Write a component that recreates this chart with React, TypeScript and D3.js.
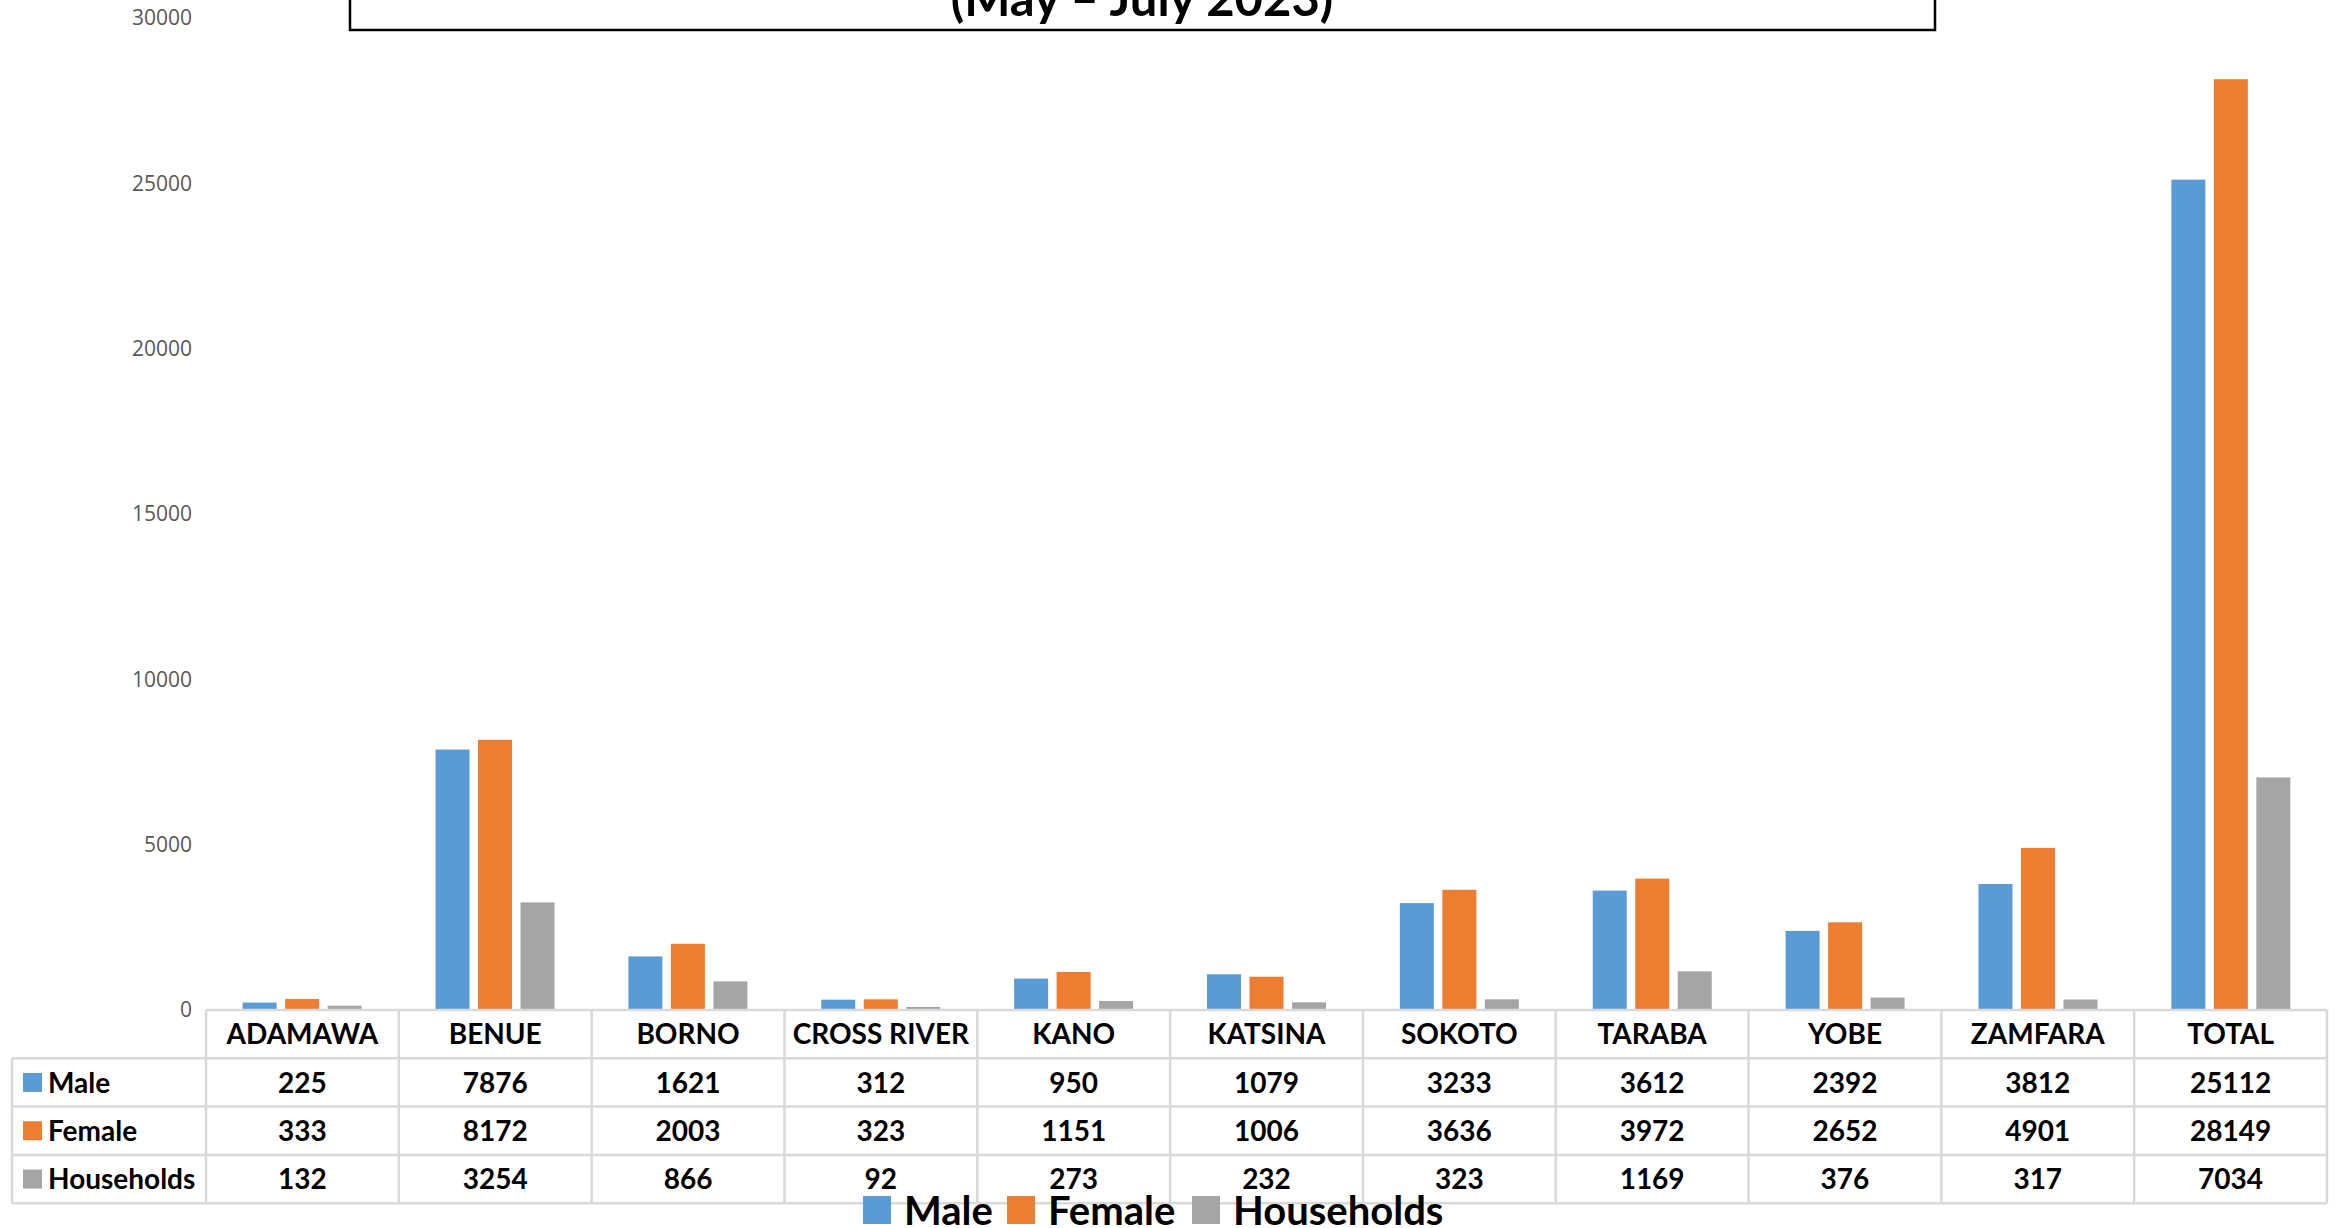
import React from "react";
import * as d3 from "d3";

const categories = ["ADAMAWA", "BENUE", "BORNO", "CROSS RIVER", "KANO", "KATSINA", "SOKOTO", "TARABA", "YOBE", "ZAMFARA", "TOTAL"];
const seriesNames = ["Male", "Female", "Households"];
const male = [225, 7876, 1621, 312, 950, 1079, 3233, 3612, 2392, 3812, 25112];
const female = [333, 8172, 2003, 323, 1151, 1006, 3636, 3972, 2652, 4901, 28149];
const households = [132, 3254, 866, 92, 273, 232, 323, 1169, 376, 317, 7034];
const colors = ["#5B9BD5", "#ED7D31", "#A5A5A5"];
const yTicks = [0, 5000, 10000, 15000, 20000, 25000, 30000];
const subtitle = "(May – July 2023)";

const W = 2346;
const H = 1228;

export default function App() {
  const series = [male, female, households];
  const tableLeft = 12;
  const plotLeft = 206;
  const plotRight = 2327;
  const baseY = 1010;
  const rowH = 48.3;

  const y = d3.scaleLinear().domain([0, 30000]).range([baseY, 18]);
  const x0 = d3.scaleBand<string>().domain(categories).range([plotLeft, plotRight]).paddingInner(0.383).paddingOuter(0.19);
  const cellX = d3.scaleBand<string>().domain(categories).range([plotLeft, plotRight]);
  const x1 = d3.scaleBand<string>().domain(seriesNames).range([0, x0.bandwidth()]).paddingInner(0.2).paddingOuter(0);

  const border = "#d9d9d9";
  const font = "Lato, 'Open Sans', sans-serif";
  const tableBottom = baseY + rowH * 4;

  const legendItems = [
    { name: "Male", x: 863 },
    { name: "Female", x: 1007 },
    { name: "Households", x: 1192 },
  ];

  return (
    <svg width={W} height={H} style={{ position: "absolute", left: 0, top: 0, background: "#fff" }} fontFamily={font}>
      {/* title box */}
      <rect x={350} y={-120} width={1585} height={150} fill="#fff" stroke="#000" strokeWidth={2.5} />
      <text x={1142} y={16} textAnchor="middle" fontSize={49} fontWeight={700} fill="#000">{subtitle}</text>

      {/* y axis labels */}
      {yTicks.map((t) => (
        <text key={t} x={192} y={y(t)} dy="0.35em" textAnchor="end" fontSize={21} fill="#595959" fontFamily="'Open Sans', sans-serif">{t}</text>
      ))}

      {/* bars */}
      {categories.map((c, i) => (
        <g key={c} transform={`translate(${x0(c)},0)`}>
          {seriesNames.map((s, k) => (
            <rect key={s} x={x1(s)} y={y(series[k][i])} width={x1.bandwidth()} height={baseY - y(series[k][i])} fill={colors[k]} />
          ))}
        </g>
      ))}

      {/* data table */}
      <g stroke={border} strokeWidth={2.5} fill="none">
        <line x1={plotLeft} x2={plotRight} y1={baseY} y2={baseY} />
        {[1, 2, 3, 4].map((r) => (
          <line key={r} x1={tableLeft} x2={plotRight} y1={baseY + r * rowH} y2={baseY + r * rowH} />
        ))}
        <line x1={tableLeft} x2={tableLeft} y1={baseY + rowH} y2={tableBottom} />
        {categories.map((c) => (
          <line key={c} x1={cellX(c)} x2={cellX(c)} y1={baseY} y2={tableBottom} />
        ))}
        <line x1={plotRight} x2={plotRight} y1={baseY} y2={tableBottom} />
      </g>
      {categories.map((c) => (
        <text key={c} x={(cellX(c) as number) + cellX.bandwidth() / 2} y={baseY + rowH / 2} dy="0.36em" textAnchor="middle" fontSize={28} fontWeight={700} fill="#000">{c}</text>
      ))}
      {seriesNames.map((s, k) => (
        <g key={s}>
          <rect x={23} y={baseY + (k + 1) * rowH + rowH / 2 - 9.5} width={19} height={19} fill={colors[k]} />
          <text x={48} y={baseY + (k + 1.5) * rowH} dy="0.36em" fontSize={28} fontWeight={700} fill="#000">{s}</text>
          {categories.map((c, i) => (
            <text key={c} x={(cellX(c) as number) + cellX.bandwidth() / 2} y={baseY + (k + 1.5) * rowH} dy="0.36em" textAnchor="middle" fontSize={28} fontWeight={700} fill="#000">{series[k][i]}</text>
          ))}
        </g>
      ))}

      {/* legend */}
      {legendItems.map((it, k) => (
        <g key={it.name}>
          <rect x={it.x} y={1196} width={28} height={28} fill={colors[k]} />
          <text x={it.x + 41} y={1225} fontSize={40} fontWeight={700} fill="#000">{it.name}</text>
        </g>
      ))}
    </svg>
  );
}
